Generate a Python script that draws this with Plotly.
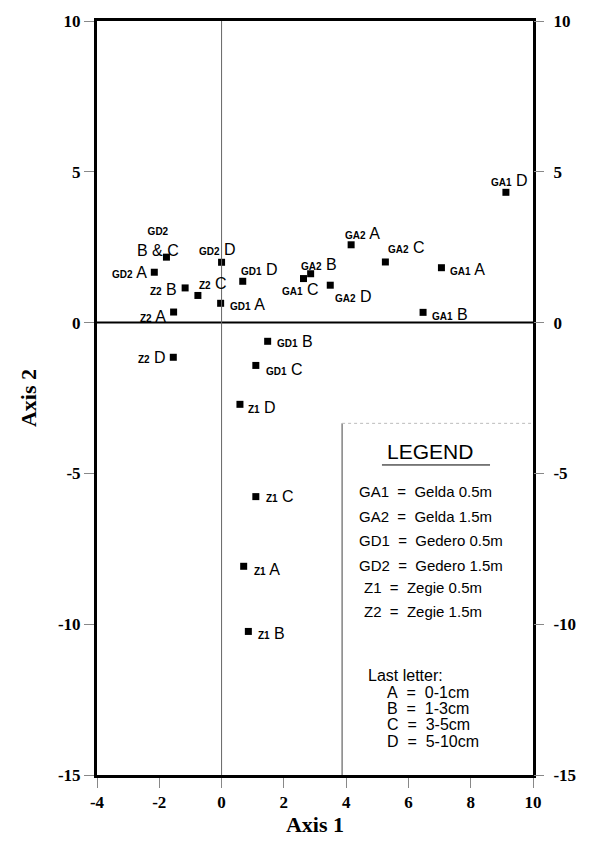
import plotly.graph_objects as go

# Ordination scores of the soil samples (site code + depth letter)
site = ["GA1", "GA1", "GA1", "GA1",
        "GA2", "GA2", "GA2", "GA2",
        "GD1", "GD1", "GD1", "GD1",
        "GD2", "GD2", "GD2",
        "Z1", "Z1", "Z1", "Z1",
        "Z2", "Z2", "Z2", "Z2"]
depth = ["A", "B", "C", "D",
         "A", "B", "C", "D",
         "A", "B", "C", "D",
         "A", "B & C", "D",
         "A", "B", "C", "D",
         "A", "B", "C", "D"]
axis1 = [7.06, 6.47, 2.63, 9.13,
         4.16, 2.86, 5.26, 3.49,
         -0.03, 1.48, 1.10, 0.68,
         -2.16, -1.77, 0.00,
         0.71, 0.86, 1.10, 0.59,
         -1.54, -1.17, -0.76, -1.55]
axis2 = [1.82, 0.34, 1.46, 4.32,
         2.58, 1.62, 2.01, 1.24,
         0.64, -0.62, -1.42, 1.37,
         1.67, 2.17, 2.00,
         -8.08, -10.24, -5.77, -2.71,
         0.35, 1.15, 0.90, -1.15]

x_ticks = [-4, -2, 0, 2, 4, 6, 8, 10]
y_ticks = [-15, -10, -5, 0, 5, 10]

legend_codes = [("GA1", "Gelda 0.5m"), ("GA2", "Gelda 1.5m"),
                ("GD1", "Gedero 0.5m"), ("GD2", "Gedero 1.5m"),
                ("Z1", "Zegie 0.5m"), ("Z2", "Zegie 1.5m")]
legend_depths = [("A", "0-1cm"), ("B", "1-3cm"), ("C", "3-5cm"), ("D", "5-10cm")]

# label placement per sample: (xanchor, xshift, yshift)
label_pos = {
    "GA1 A": ("left", 7, -2), "GA1 B": ("left", 7, -2),
    "GA1 C": ("center", -3, -11), "GA1 D": ("center", 4, 12),
    "GA2 A": ("center", 11, 11), "GA2 B": ("center", 8, 9),
    "GA2 C": ("center", 21, 14), "GA2 D": ("center", 23, -11),
    "GD1 A": ("left", 7, -1), "GD1 B": ("left", 7, 0),
    "GD1 C": ("left", 8, -4), "GD1 D": ("center", 17, 12),
    "GD2 A": ("right", -5, 0), "GD2 B & C": ("center", -8, 15),
    "GD2 D": ("center", -4, 13),
    "Z1 A": ("left", 8, -3), "Z1 B": ("left", 8, -2),
    "Z1 C": ("left", 8, 0), "Z1 D": ("left", 6, -3),
    "Z2 A": ("right", -6, -4), "Z2 B": ("right", -6, -2),
    "Z2 C": ("center", 15, 12), "Z2 D": ("right", -5, 0),
}

SERIF = "Liberation Serif"
SANS = "Liberation Sans"
NB = "\u00a0"

fig = go.Figure()
fig.add_trace(go.Scatter(
    x=axis1, y=axis2, mode="markers",
    marker=dict(symbol="square", size=7, color="black"),
    hoverinfo="skip", showlegend=False))

# invisible trace carrying the mirrored right-hand axis
fig.add_trace(go.Scatter(x=[None], y=[None], yaxis="y2", showlegend=False,
                         hoverinfo="skip"))

annotations = []
for s, d, x, y in zip(site, depth, axis1, axis2):
    key = f"{s} {d}"
    anchor, dx, dy = label_pos[key]
    small = f"<span style='font-size:10px'><b>{s}</b></span>"
    d_txt = d.replace("&", "&amp;")
    if "&" in d:
        txt = f"{small}<br>{d_txt}"
    else:
        txt = f"{small} {d_txt}"
    annotations.append(dict(
        x=x, y=y, xref="x", yref="y", text=txt, showarrow=False,
        xanchor=anchor, yanchor="middle", xshift=dx, yshift=dy,
        font=dict(family=SANS, size=16, color="black")))

# legend panel
annotations.append(dict(x=6.69, y=-4.26, xref="x", yref="y", text="LEGEND",
                        showarrow=False, xanchor="center", yanchor="middle",
                        font=dict(family=SANS, size=21, color="black")))
code_y = [-5.60, -6.43, -7.21, -8.04, -8.79, -9.58]
code_x = [4.35, 4.35, 4.35, 4.35, 4.51, 4.51]
for (c, name), xx, yy in zip(legend_codes, code_x, code_y):
    t = f"{c}{NB}{NB}={NB}{NB}{name}"
    annotations.append(dict(x=xx, y=yy, xref="x", yref="y", text=t,
                            showarrow=False, xanchor="left", yanchor="middle",
                            font=dict(family=SANS, size=15, color="black")))
annotations.append(dict(x=4.64, y=-11.71, xref="x", yref="y",
                        text="Last letter:", showarrow=False, xanchor="left",
                        yanchor="middle",
                        font=dict(family=SANS, size=16, color="black")))
for (c, rng), yy in zip(legend_depths, [-12.27, -12.80, -13.32, -13.88]):
    t = f"{c}{NB}{NB}={NB}{NB}{rng}"
    annotations.append(dict(x=5.25, y=yy, xref="x", yref="y", text=t,
                            showarrow=False, xanchor="left", yanchor="middle",
                            font=dict(family=SANS, size=16, color="black")))

shapes = [
    # zero lines
    dict(type="line", xref="x", yref="y", x0=-4, x1=10, y0=0, y1=0,
         line=dict(color="black", width=2)),
    dict(type="line", xref="x", yref="y", x0=0, x1=0, y0=-15, y1=10,
         line=dict(color="#666", width=1)),
    # legend panel border
    dict(type="line", xref="x", yref="y", x0=3.87, x1=3.87, y0=-15, y1=-3.34,
         line=dict(color="#444", width=1)),
    dict(type="line", xref="x", yref="y", x0=3.87, x1=10, y0=-3.34, y1=-3.34,
         line=dict(color="#bbb", width=1, dash="dot")),
    dict(type="line", xref="x", yref="y", x0=5.15, x1=8.62, y0=-4.72, y1=-4.72,
         line=dict(color="black", width=1)),
]

tickfont = dict(family=SERIF, size=17, color="black")
x_text = [f"<b>{v}</b>" for v in x_ticks]
y_text = [f"<b>{v}</b>" for v in y_ticks]
fig.update_layout(
    width=594, height=849,
    margin=dict(l=97, r=61, t=14, b=74),
    paper_bgcolor="white", plot_bgcolor="white",
    annotations=annotations, shapes=shapes,
    xaxis=dict(range=[-4, 10], tickvals=x_ticks, ticktext=x_text,
               ticks="outside", ticklen=10, tickcolor="#888", tickwidth=1,
               showgrid=False, zeroline=False,
               showline=True, linecolor="black", linewidth=3, mirror=True,
               tickfont=tickfont,
               title=dict(text="<b>Axis 1</b>", standoff=6,
                          font=dict(family=SERIF, size=22, color="black"))),
    yaxis=dict(range=[-15, 10], tickvals=y_ticks, ticktext=y_text,
               ticks="outside", ticklen=10, tickcolor="#888", tickwidth=1,
               showgrid=False, zeroline=False,
               showline=True, linecolor="black", linewidth=3, mirror=True,
               tickfont=tickfont,
               title=dict(text="<b>Axis 2</b>", standoff=16,
                          font=dict(family=SERIF, size=22, color="black"))),
    yaxis2=dict(range=[-15, 10], tickvals=y_ticks, ticktext=y_text,
                overlaying="y", side="right", ticks="outside", ticklen=10,
                tickcolor="#888", tickwidth=1, showgrid=False,
                zeroline=False, showline=False, tickfont=tickfont,
                ticklabelstandoff=6),
)

fig.write_html("out.html")
